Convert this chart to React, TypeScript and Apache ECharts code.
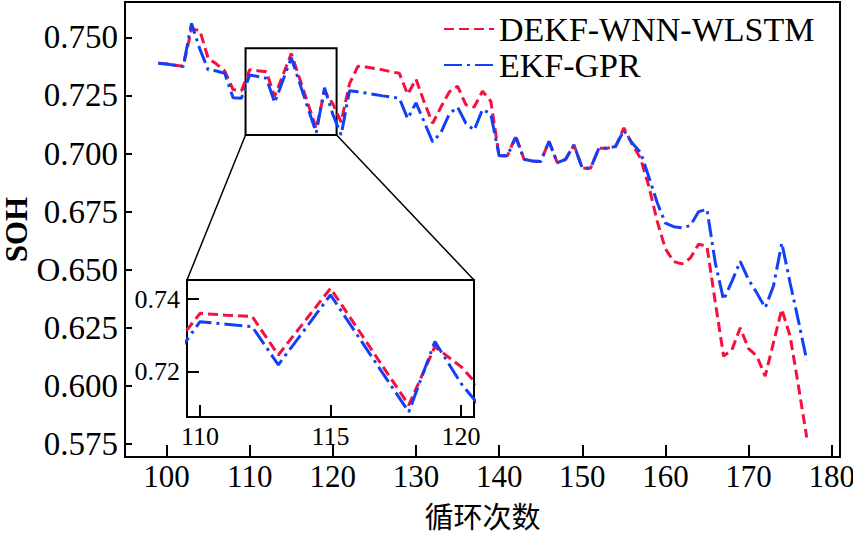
import { useEffect, useRef } from "react";
import * as echarts from "echarts";

const cycles = [
  99, 100, 101, 102, 103, 104, 105, 106, 107, 108, 109, 110, 111, 112, 113, 114, 115, 116, 117, 118,
  119, 120, 121, 122, 123, 124, 125, 126, 127, 128, 129, 130, 131, 132, 133, 134, 135, 136, 137, 138,
  139, 140, 141, 142, 143, 144, 145, 146, 147, 148, 149, 150, 151, 152, 153, 154, 155, 156, 157, 158,
  159, 160, 161, 162, 163, 164, 165, 166, 167, 168, 169, 170, 171, 172, 173, 174, 175, 176, 177,
];

const dekfWnnWlstm = [
  0.7388, 0.7385, 0.738, 0.7375, 0.7535, 0.753, 0.741, 0.7385, 0.7355, 0.7275, 0.727, 0.7361, 0.7356, 0.7352, 0.7246, 0.7338, 0.743, 0.7323, 0.7215, 0.7108,
  0.7269, 0.7214, 0.7135, 0.73, 0.7375, 0.7372, 0.7366, 0.736, 0.7352, 0.7345, 0.7255, 0.732, 0.722, 0.713, 0.72, 0.7265, 0.729, 0.721, 0.72, 0.7268,
  0.7225, 0.699, 0.699, 0.7075, 0.6975, 0.6968, 0.6966, 0.7052, 0.696, 0.6975, 0.7037, 0.6937, 0.6937, 0.7023, 0.7023, 0.703, 0.711, 0.704, 0.698, 0.686,
  0.671, 0.659, 0.6535, 0.6525, 0.655, 0.661, 0.66, 0.636, 0.6128, 0.6155, 0.625, 0.616, 0.6128, 0.6042, 0.6186, 0.633, 0.6214, 0.6, 0.5778,
];

const ekfGpr = [
  0.7388, 0.7385, 0.738, 0.7374, 0.756, 0.745, 0.736, 0.7355, 0.7345, 0.724, 0.7238, 0.7338, 0.7331, 0.7324, 0.7219, 0.7315, 0.7412, 0.7304, 0.7196, 0.7089,
  0.7283, 0.7168, 0.708, 0.727, 0.7266, 0.726, 0.7254, 0.7248, 0.7243, 0.7238, 0.715, 0.7218, 0.7135, 0.705, 0.709, 0.717, 0.72, 0.713, 0.71, 0.719,
  0.717, 0.699, 0.699, 0.707, 0.6975, 0.6968, 0.6966, 0.7052, 0.696, 0.6975, 0.7037, 0.6937, 0.6937, 0.7023, 0.7023, 0.703, 0.71, 0.7045, 0.7005, 0.69,
  0.679, 0.67, 0.6685, 0.668, 0.669, 0.675, 0.676, 0.653, 0.637, 0.645, 0.6536, 0.6457, 0.64, 0.6336, 0.643, 0.6615, 0.6443, 0.628, 0.611,
];

const seriesNames = ["DEKF-WNN-WLSTM", "EKF-GPR"];
const mainXRange = [95, 181];
const mainYRange = [0.5694, 0.7652];
const insetXRange = [109.5, 120.5];
const insetYRange = [0.7075, 0.7453];

const RED = "#f5103f";
const BLUE = "#1240f5";
const SERIF = "Liberation Serif";

export default function App() {
  const ref = useRef<HTMLDivElement>(null);

  useEffect(() => {
    if (!ref.current) return;
    const chart = echarts.init(ref.current, null, { renderer: "svg" });

    const redData = cycles.map((c, i) => [c, dekfWnnWlstm[i]]);
    const blueData = cycles.map((c, i) => [c, ekfGpr[i]]);

    const redStyle = { color: RED, width: 3, type: [10, 5] as number[] };
    const blueStyle = { color: BLUE, width: 3, type: [18, 5, 3, 5] as number[] };

    const axisLine = { show: true, lineStyle: { color: "#000", width: 2 } };

    chart.setOption({
      animation: false,
      backgroundColor: "#fff",
      legend: {
        orient: "vertical",
        left: 443,
        top: 12,
        padding: 0,
        itemGap: 2,
        itemWidth: 50,
        itemHeight: 20,
        data: seriesNames,
        itemStyle: { color: "rgba(0,0,0,0)", borderColor: "rgba(0,0,0,0)", borderWidth: 0, opacity: 0 },
        textStyle: { fontFamily: SERIF, fontSize: 34, color: "#000", lineHeight: 34 },
      },
      grid: [
        { left: 125, right: 13, top: 2, bottom: 76, show: true, borderColor: "#000", borderWidth: 2, backgroundColor: "transparent", outerBoundsMode: "none", containLabel: false },
        { left: 187, top: 280, width: 287, height: 137, show: true, borderColor: "#000", borderWidth: 2, backgroundColor: "#fff", z: 5, outerBoundsMode: "none", containLabel: false },
      ],
      xAxis: [
        {
          type: "value",
          gridIndex: 0,
          min: mainXRange[0],
          max: mainXRange[1],
          minInterval: 10,
          maxInterval: 10,
          axisLine,
          axisTick: { show: true, inside: true, length: 12, lineStyle: { color: "#000", width: 2 } },
          splitLine: { show: false },
          axisLabel: { showMinLabel: false, showMaxLabel: false, fontFamily: SERIF, fontSize: 31, lineHeight: 28, color: "#000", margin: 5 },
          name: "循环次数",
          nameLocation: "middle",
          nameGap: 43,
          nameMoveOverlap: false,
          nameTextStyle: { fontFamily: "Noto Sans CJK SC", fontSize: 29, lineHeight: 30, color: "#000" },
        },
        {
          type: "value",
          gridIndex: 1,
          min: insetXRange[0],
          max: insetXRange[1],
          minInterval: 5,
          maxInterval: 5,
          axisLine,
          axisTick: { show: true, inside: true, length: 12, lineStyle: { color: "#000", width: 2 } },
          splitLine: { show: false },
          axisLabel: { showMinLabel: false, showMaxLabel: false, fontFamily: SERIF, fontSize: 26, color: "#000", margin: 6 },
          z: 6,
        },
      ],
      yAxis: [
        {
          type: "value",
          gridIndex: 0,
          min: mainYRange[0],
          max: mainYRange[1],
          minInterval: 0.025,
          maxInterval: 0.025,
          axisLine,
          axisTick: { show: true, inside: true, length: 7, lineStyle: { color: "#000", width: 2 } },
          splitLine: { show: false },
          axisLabel: {
            showMinLabel: false,
            showMaxLabel: false,
            fontFamily: SERIF,
            fontSize: 33,
            color: "#000",
            margin: 7,
            formatter: (v: number) => {
              const s = v.toFixed(3);
              return s === "0.650" ? "O.650" : s;
            },
          },
          name: "SOH",
          nameLocation: "middle",
          nameGap: 93,
          nameMoveOverlap: false,
          nameTextStyle: { fontFamily: SERIF, fontSize: 31, lineHeight: 31, fontWeight: "bold", color: "#000" },
        },
        {
          type: "value",
          gridIndex: 1,
          min: insetYRange[0],
          max: insetYRange[1],
          minInterval: 0.02,
          maxInterval: 0.02,
          axisLine,
          axisTick: { show: true, inside: true, length: 12, lineStyle: { color: "#000", width: 2 } },
          splitLine: { show: false },
          axisLabel: {
            showMinLabel: false,
            showMaxLabel: false,
            fontFamily: SERIF,
            fontSize: 26,
            color: "#000",
            margin: 7,
            formatter: (v: number) => v.toFixed(2),
          },
          z: 6,
        },
      ],
      series: [
        {
          name: seriesNames[0],
          type: "line",
          xAxisIndex: 0,
          yAxisIndex: 0,
          data: redData,
          symbol: "none",
          color: RED,
          lineStyle: redStyle,
          markArea: {
            silent: true,
            itemStyle: { color: "rgba(0,0,0,0)", borderColor: "#000", borderWidth: 2 },
            label: { show: false },
            data: [[{ coord: [insetXRange[0], insetYRange[1]] }, { coord: [120.45, 0.708] }]],
          },
        },
        {
          name: seriesNames[1],
          type: "line",
          xAxisIndex: 0,
          yAxisIndex: 0,
          data: blueData,
          symbol: "none",
          color: BLUE,
          lineStyle: blueStyle,
        },
        {
          name: seriesNames[0],
          type: "line",
          xAxisIndex: 1,
          yAxisIndex: 1,
          data: redData,
          symbol: "none",
          color: RED,
          lineStyle: redStyle,
          clip: true,
          z: 7,
        },
        {
          name: seriesNames[1],
          type: "line",
          xAxisIndex: 1,
          yAxisIndex: 1,
          data: blueData,
          symbol: "none",
          color: BLUE,
          lineStyle: blueStyle,
          clip: true,
          z: 7,
        },
      ],
    });

    const p1 = chart.convertToPixel({ gridIndex: 0 }, [insetXRange[0], 0.708]) as number[];
    const p2 = chart.convertToPixel({ gridIndex: 0 }, [120.45, 0.708]) as number[];
    const q1 = chart.convertToPixel({ gridIndex: 1 }, [insetXRange[0], insetYRange[1]]) as number[];
    const q2 = chart.convertToPixel({ gridIndex: 1 }, [insetXRange[1], insetYRange[1]]) as number[];
    if (p1 && p2 && q1 && q2) {
      chart.setOption({
        graphic: [
          { type: "line", shape: { x1: p1[0], y1: p1[1], x2: q1[0], y2: q1[1] }, style: { stroke: "#000", lineWidth: 1.5 }, z: 10 },
          { type: "line", shape: { x1: p2[0], y1: p2[1], x2: q2[0], y2: q2[1] }, style: { stroke: "#000", lineWidth: 1.5 }, z: 10 },
        ],
      });
    }

    return () => chart.dispose();
  }, []);

  return <div ref={ref} style={{ position: "fixed", left: 0, top: 0, width: 853, height: 533 }} />;
}
